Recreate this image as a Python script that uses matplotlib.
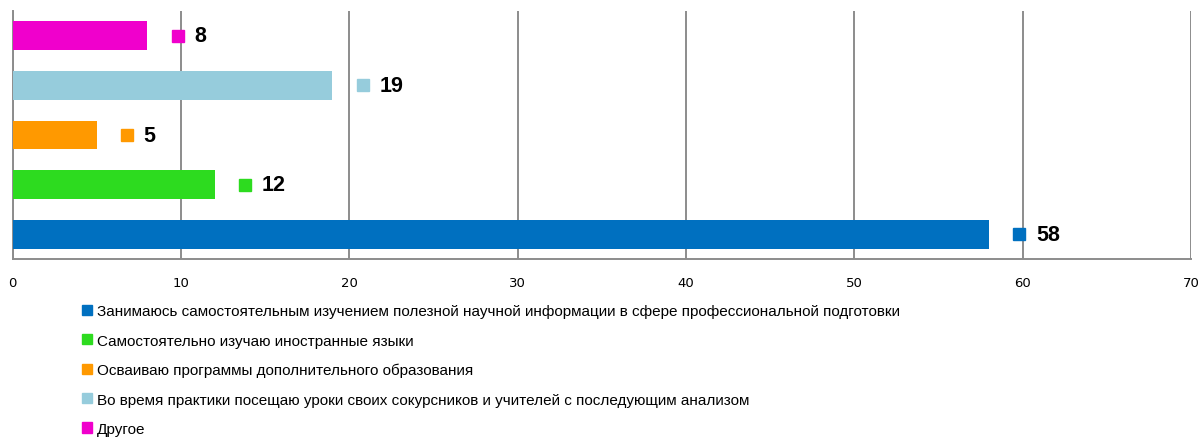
import matplotlib
matplotlib.use("Agg")
from matplotlib import pyplot as plt
from matplotlib.patches import Patch

categories = [
    "Занимаюсь самостоятельным изучением полезной научной информации в сфере профессиональной подготовки",
    "Самостоятельно изучаю иностранные языки",
    "Осваиваю программы дополнительного образования",
    "Во время практики посещаю уроки своих сокурсников и учителей с последующим анализом",
    "Другое",
]
values = [58, 12, 5, 19, 8]
colors = ["#0070c0", "#2ddb1f", "#ff9900", "#96ccdc", "#f000cc"]
xticks = [0, 10, 20, 30, 40, 50, 60, 70]

font = ["Liberation Sans", "DejaVu Sans"]

fig = plt.figure(figsize=(12, 4.39), dpi=100)
ax = fig.add_axes([0.0105, 0.4077, 0.982, 0.5650])

pos = list(range(len(values)))
ax.barh(pos, values, height=0.58, color=colors, zorder=3)

# маркер и подпись справа от столбца
for p, v, c in zip(pos, values, colors):
    ax.plot(v + 1.8, p, marker="s", ms=8, color=c, ls="none", zorder=4)
    ax.annotate(str(v), (v + 1.8, p), xytext=(12, 0), textcoords="offset points",
                va="center", ha="left", fontsize=15.5, fontweight="bold",
                family=font, zorder=5)

ax.set_xlim(0, 70)
ax.set_ylim(-0.5, len(values) - 0.5)
ax.set_xticks(xticks)
ax.set_yticks([])
ax.xaxis.grid(True, color="#8c8c8c", lw=1.4, zorder=0)
ax.tick_params(axis="x", length=0, labelsize=9.5, pad=12)
for s in ["top", "right"]:
    ax.spines[s].set_visible(False)
for s in ["left", "bottom"]:
    ax.spines[s].set_color("#8c8c8c")
    ax.spines[s].set_linewidth(1.4)

handles = [Patch(color=c) for c in colors]
fig.legend(handles, categories, loc="upper left", bbox_to_anchor=(0.062, 0.322),
           frameon=False, handlelength=0.65, handleheight=0.65, handletextpad=0.3,
           labelspacing=1.0, borderpad=0, prop={"family": font, "size": 11})

fig.savefig("out.png", dpi=100)
